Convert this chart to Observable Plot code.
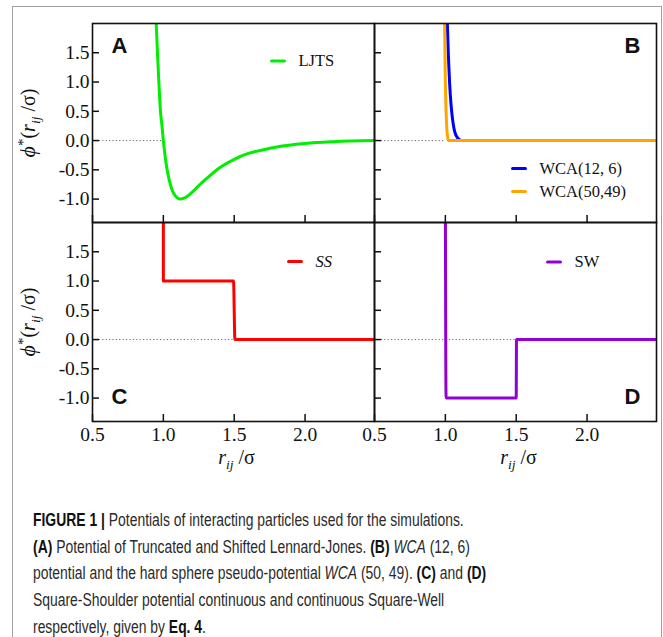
<!DOCTYPE html>
<html><head><meta charset="utf-8">
<script src="https://cdn.jsdelivr.net/npm/d3@7"></script>
<script src="https://cdn.jsdelivr.net/npm/@observablehq/plot@0.6"></script>
<style>
html,body{margin:0;padding:0;background:#fff;width:663px;height:637px;overflow:hidden;position:relative}
#frame{position:absolute;left:12px;top:6px;width:650px;height:660px;border:1.5px solid #a0a0a0;box-sizing:border-box}
#chart{position:absolute;left:0;top:0}
#caption{position:absolute;left:33px;top:507px;font-family:"Liberation Sans Narrow","Liberation Sans",sans-serif;font-size:17.5px;line-height:26.7px;color:#2a2a2a;white-space:nowrap;transform:scaleX(0.795);transform-origin:0 0}
#caption b{font-weight:bold;color:#111}
</style></head><body>
<div id="frame"></div>
<div id="chart"></div>
<div id="caption">
<div><b>FIGURE 1 |</b> Potentials of interacting particles used for the simulations.</div>
<div><b>(A)</b> Potential of Truncated and Shifted Lennard-Jones. <b>(B)</b> <i>WCA</i> (12, 6)</div>
<div>potential and the hard sphere pseudo-potential <i>WCA</i> (50, 49). <b>(C)</b> and <b>(D)</b></div>
<div>Square-Shoulder potential continuous and continuous Square-Well</div>
<div>respectively, given by <b>Eq. 4</b>.</div>
</div>
<script>
// ---------- data ----------
const panels = ["A", "B", "C", "D"];
const seriesNames = ["LJTS", "WCA(12, 6)", "WCA(50,49)", "SS", "SW"];
const seriesPanels = ["A", "B", "B", "C", "D"];
const seriesColors = ["#00ee00", "#0000ff", "#ffa500", "#ff0000", "#9400d3"];

const ljR   = [0.94, 0.95, 0.96, 0.97, 0.98, 0.99, 1.00, 1.02, 1.04, 1.06, 1.08, 1.10, 1.12, 1.15, 1.20, 1.25, 1.30, 1.40, 1.50, 1.60, 1.70, 1.80, 2.00, 2.20, 2.49];
const ljPhi = [2.6, 1.97, 1.42, 0.92, 0.49, 0.26, 0.0, -0.40, -0.66, -0.83, -0.93, -0.98, -1.0, -0.98, -0.89, -0.77, -0.66, -0.46, -0.32, -0.22, -0.16, -0.11, -0.05, -0.02, 0.0];

const wca126R   = [1.008, 1.012, 1.016, 1.022, 1.030, 1.040, 1.050, 1.060, 1.070, 1.085, 1.100, 1.120, 2.49];
const wca126Phi = [2.6, 2.2, 1.85, 1.42, 0.98, 0.62, 0.38, 0.22, 0.12, 0.05, 0.015, 0.0, 0.0];

const wca5049R   = [0.993, 0.996, 1.000, 1.005, 1.010, 1.015, 1.022, 2.49];
const wca5049Phi = [2.6, 1.7, 1.0, 0.5, 0.22, 0.08, 0.0, 0.0];

const ssR   = [1.0, 1.0, 1.495, 1.505, 2.49];
const ssPhi = [2.6, 1.0, 1.0, 0.0, 0.0];

const swR   = [1.0, 1.005, 1.5, 1.502, 2.49];
const swPhi = [2.6, -1.0, -1.0, 0.0, 0.0];

const zeroLineEnd = [1.0, 1.0, 1.5, 2.49];   // extent of the dotted zero line per panel

const xTicks = [0.5, 1.0, 1.5, 2.0];
const yTicks = [-1.0, -0.5, 0.0, 0.5, 1.0, 1.5];
const xDomain = [0.5, 2.49];
const yDomain = [-1.4, 2.0];

// ---------- build tables ----------
const col = {A: "L", B: "R", C: "L", D: "R"};
const row = {A: "T", B: "T", C: "B", D: "B"};
const seriesR = [ljR, wca126R, wca5049R, ssR, swR];
const seriesPhi = [ljPhi, wca126Phi, wca5049Phi, ssPhi, swPhi];
const curves = seriesNames.flatMap((name, i) =>
  seriesR[i].map((r, j) => ({panel: seriesPanels[i], name, r, phi: seriesPhi[i][j]})));
const panelRows = panels.map((p, i) => ({panel: p, end: zeroLineEnd[i]}));
const F = {fx: d => col[d.panel], fy: d => row[d.panel]};
const one = p => [{panel: p}];

// legend placement (pixel offsets from the panel's top-left corner)
const legendPos = {
  "LJTS":       {p: "A", dx: 179, dy: 37.5, italic: false},
  "WCA(12, 6)": {p: "B", dx: 138, dy: 145, italic: false},
  "WCA(50,49)": {p: "B", dx: 138, dy: 168, italic: false},
  "SS":         {p: "C", dx: 196, dy: 39, italic: true},
  "SW":         {p: "D", dx: 173, dy: 39.5, italic: false}
};
const lineShape = {draw(ctx, l) { ctx.moveTo(0, 0); ctx.lineTo(0, -l); }};

const legendMarks = seriesNames.flatMap((name, i) => {
  const L = legendPos[name];
  return [
    Plot.vector(one(L.p), {...F, frameAnchor: "top-left", dx: L.dx, dy: L.dy, rotate: 90, length: 13,
      anchor: "start", shape: lineShape, stroke: seriesColors[i], strokeWidth: 3}),
    Plot.text(one(L.p), {...F, frameAnchor: "top-left", dx: L.dx + 27, dy: L.dy, text: () => name,
      textAnchor: "start", lineAnchor: "middle", fontSize: 16.5, fontFamily: "Liberation Serif",
      fontStyle: L.italic ? "italic" : "normal", fill: "#111"})
  ];
});

const letterMarks = [
  Plot.text(one("A"), {...F, frameAnchor: "top-left", dx: 19, dy: 14, text: d => d.panel, textAnchor: "start", lineAnchor: "top"}),
  Plot.text(one("B"), {...F, frameAnchor: "top-right", dx: -16, dy: 14, text: d => d.panel, textAnchor: "end", lineAnchor: "top"}),
  Plot.text(one("C"), {...F, frameAnchor: "bottom-left", dx: 19, dy: -18, text: d => d.panel, textAnchor: "start", lineAnchor: "bottom"}),
  Plot.text(one("D"), {...F, frameAnchor: "bottom-right", dx: -16, dy: -18, text: d => d.panel, textAnchor: "end", lineAnchor: "bottom"})
];

const chart = Plot.plot({
  width: 663, height: 475,
  marginLeft: 91, marginRight: 7, marginTop: 23, marginBottom: 54,
  x: {domain: xDomain, label: null},
  y: {domain: yDomain, label: null},
  fx: {domain: ["L", "R"], padding: 0, axis: null, label: null},
  fy: {domain: ["T", "B"], padding: 0, axis: null, label: null},
  color: {domain: seriesNames, range: seriesColors},
  style: {fontFamily: "Liberation Serif", fontSize: "19.5px", color: "#111", background: "transparent"},
  marks: [
    Plot.ruleY(panelRows, {...F, y: () => 0, x1: () => xDomain[0], x2: "end", stroke: "#666", strokeWidth: 1, strokeDasharray: "1.2,2.2"}),
    Plot.line(curves, {...F, x: "r", y: "phi", z: "name", stroke: "name", strokeWidth: 3, curve: "monotone-x", clip: true}),
    Plot.axisX({ticks: xTicks, tickSize: -7, tickFormat: () => "", facetAnchor: null, label: null, strokeWidth: 1.5}),
    Plot.axisY({ticks: yTicks, tickSize: -7, tickFormat: () => "", facetAnchor: null, label: null, strokeWidth: 1.5}),
    Plot.axisX({ticks: xTicks, tickSize: 0, tickPadding: 6, tickFormat: d => d.toFixed(1), label: null, fontSize: 19.5}),
    Plot.axisY({ticks: yTicks, tickSize: 0, tickPadding: 3, tickFormat: d => d.toFixed(1), label: null, fontSize: 19.5}),
    Plot.frame({stroke: "#111", strokeWidth: 1.6}),
    Plot.text([{panel: "A"}, {panel: "C"}], {...F, frameAnchor: "left", dx: -64, rotate: -90, text: () => "YLAB", fontSize: 20, textAnchor: "middle", lineAnchor: "middle"}),
    Plot.text([{panel: "C"}, {panel: "D"}], {...F, frameAnchor: "bottom", dx: 3, dy: 42, text: () => "XLAB", fontSize: 20, textAnchor: "middle", lineAnchor: "bottom"}),
    ...legendMarks,
    ...letterMarks
  ]
});
document.getElementById("chart").appendChild(chart);

// panel letters in bold sans
d3.select(chart).selectAll("text").filter(function () { return /^[ABCD]$/.test(this.textContent); })
  .attr("font-family", "Liberation Sans, Arial, sans-serif").attr("font-weight", "bold").attr("font-size", 22).attr("fill", "#111");

// rich axis labels
d3.select(chart).selectAll("text").filter(function () { return this.textContent === "YLAB"; }).each(function () {
  const t = d3.select(this); t.text("");
  t.append("tspan").attr("font-style", "italic").attr("font-size", 22).text("ϕ");
  t.append("tspan").attr("font-size", 15).attr("dy", -7).text("*");
  t.append("tspan").attr("dy", 7).text("(");
  t.append("tspan").attr("font-style", "italic").text("r");
  t.append("tspan").attr("font-style", "italic").attr("font-size", 13.5).attr("dy", 5).text("ij");
  t.append("tspan").attr("dy", -5).text(" /σ)");
});
d3.select(chart).selectAll("text").filter(function () { return this.textContent === "XLAB"; }).each(function () {
  const t = d3.select(this); t.text("");
  t.append("tspan").attr("font-style", "italic").text("r");
  t.append("tspan").attr("font-style", "italic").attr("font-size", 13.5).attr("dy", 5).text("ij");
  t.append("tspan").attr("dy", -5).text(" /σ");
});
</script>
</body></html>
